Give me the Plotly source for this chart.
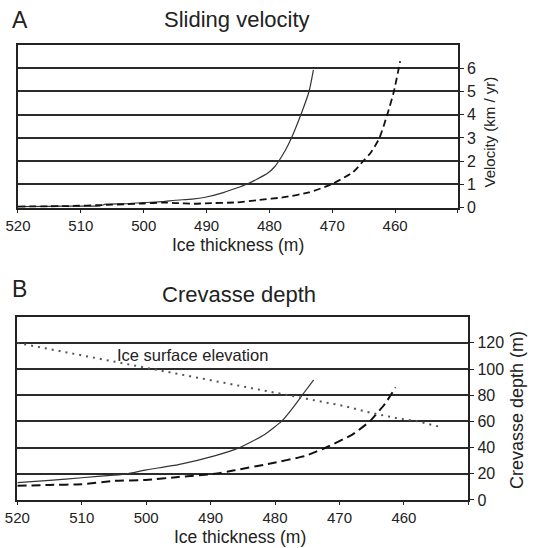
import plotly.graph_objects as go

# Panel A: sliding velocity (km/yr) vs ice thickness (m)
thick_a_solid = [520, 515, 510, 507, 506, 503, 500, 497, 495, 492.3, 490.2, 487.2, 485.5, 483.7, 482.0, 480.2, 479.2, 478.4, 477.4, 476.5, 475.0, 473.7, 473.0]
vel_a_solid = [0.05, 0.06, 0.07, 0.08, 0.15, 0.17, 0.22, 0.26, 0.32, 0.37, 0.45, 0.66, 0.82, 1.0, 1.22, 1.5, 1.75, 2.05, 2.5, 3.0, 4.0, 5.0, 5.93]

thick_a_dash = [520, 512, 506, 503, 500, 497, 495, 492, 490.2, 485.2, 481.7, 477.7, 473.7, 470.2, 466.7, 465.0, 463.8, 462.5, 461.2, 460.2, 459.2]
vel_a_dash = [0.05, 0.07, 0.12, 0.15, 0.18, 0.22, 0.2, 0.17, 0.19, 0.23, 0.33, 0.45, 0.66, 1.0, 1.53, 2.03, 2.4, 3.0, 4.05, 5.0, 6.3]

# Panel B: crevasse depth (m) vs ice thickness (m)
thick_b_solid = [520, 515, 510, 505, 503, 500, 495, 489.4, 485.5, 481.6, 479.0, 477.3, 475.8, 474.0]
crev_b_solid = [13.3, 15, 17, 19, 20, 23, 27, 33.7, 40, 50, 60, 70, 80, 91.7]

thick_b_dash = [520, 515, 510, 505, 500, 495, 489.4, 486.5, 481.1, 475.3, 471.9, 468.0, 465.3, 462.9, 461.3]
crev_b_dash = [10.8, 11.5, 12, 14.6, 15.3, 17.6, 20, 22.5, 27.5, 33.7, 40.5, 50, 60, 73.7, 86]

thick_b_dot = [520, 510, 500, 489.4, 477.5, 469, 465.1, 461.3, 457.8, 454.5]
elev_b_dot = [120, 110.5, 101, 91, 79.5, 71.5, 66.5, 62.7, 60, 56]

x_ticks = [520, 510, 500, 490, 480, 470, 460, 450]
x_ticktext = ["520", "510", "500", "490", "480", "470", "460", ""]
ya_ticks = [0, 1, 2, 3, 4, 5, 6]
yb_ticks = [0, 20, 40, 60, 80, 100, 120]

FONT = "Liberation Sans, Arial, sans-serif"
INK = "#222222"
GRID = "#2b2b2b"

fig = go.Figure()

fig.add_trace(go.Scatter(x=thick_a_solid, y=vel_a_solid, mode="lines",
                         line=dict(color="#333333", width=1.2, shape="spline", smoothing=0.6),
                         xaxis="x", yaxis="y", showlegend=False))
fig.add_trace(go.Scatter(x=thick_a_dash, y=vel_a_dash, mode="lines",
                         line=dict(color="#111111", width=1.8, dash="7px,4px", shape="spline", smoothing=0.6),
                         xaxis="x", yaxis="y", showlegend=False))

fig.add_trace(go.Scatter(x=thick_b_solid, y=crev_b_solid, mode="lines",
                         line=dict(color="#333333", width=1.2, shape="spline", smoothing=0.4),
                         xaxis="x2", yaxis="y2", showlegend=False))
fig.add_trace(go.Scatter(x=thick_b_dash, y=crev_b_dash, mode="lines",
                         line=dict(color="#111111", width=2, dash="9px,5px", shape="spline", smoothing=0.4),
                         xaxis="x2", yaxis="y2", showlegend=False))
fig.add_trace(go.Scatter(x=thick_b_dot, y=elev_b_dot, mode="lines",
                         line=dict(color="#555555", width=2, dash="2px,5px"),
                         xaxis="x2", yaxis="y2", showlegend=False))

common_x = dict(autorange=False, showline=True, linecolor=INK, linewidth=1.8, mirror=True,
                showgrid=False, zeroline=False, ticks="outside", ticklen=3, tickcolor=INK,
                tickvals=x_ticks, ticktext=x_ticktext, automargin=False,
                tickfont=dict(family=FONT, size=15, color=INK))
common_y = dict(autorange=False, showline=True, linecolor=INK, linewidth=1.8, mirror=True,
                side="right", showgrid=True, gridcolor=GRID, gridwidth=1.8, zeroline=False,
                ticks="outside", ticklen=4, tickcolor=INK, automargin=False,
                tickfont=dict(family=FONT, size=16, color=INK))

fig.update_layout(
    width=559, height=548,
    margin=dict(l=0, r=0, t=0, b=0),
    paper_bgcolor="white", plot_bgcolor="white",
    xaxis=dict(domain=[0.0322, 0.8193], range=[520, 450], anchor="y", **common_x),
    yaxis=dict(domain=[0.621, 0.9179], range=[0, 7], anchor="x", tickvals=ya_ticks, **common_y),
    xaxis2=dict(domain=[0.031, 0.8378], range=[520, 450], anchor="y2", **common_x),
    yaxis2=dict(domain=[0.0876, 0.4221], range=[0, 140], anchor="x2", tickvals=yb_ticks, **common_y),
)

def ann(text, x, y, size, angle=0, xanchor="center"):
    fig.add_annotation(text=text, x=x, y=y, xref="paper", yref="paper", showarrow=False,
                       xanchor=xanchor, yanchor="middle", textangle=angle,
                       font=dict(family=FONT, size=size, color=INK))

ann("A", 20 / 559, 1 - 20 / 548, 23)
ann("Sliding velocity", 237 / 559, 1 - 20 / 548, 22)
ann("Ice thickness (m)", 238 / 559, 1 - 245 / 548, 17.5)
ann("Velocity (km / yr)", 489 / 559, 1 - 132.5 / 548, 15, angle=-90)

ann("B", 19.5 / 559, 1 - 289 / 548, 23)
ann("Crevasse depth", 239 / 559, 1 - 294.7 / 548, 22)
ann("Ice thickness (m)", 240 / 559, 1 - 537 / 548, 17.5)
ann("Crevasse depth (m)", 517 / 559, 1 - 410 / 548, 18, angle=-90)

fig.add_annotation(text="Ice surface elevation", x=504.8, y=110.7, xref="x2", yref="y2",
                   showarrow=False, xanchor="left", yanchor="middle",
                   font=dict(family=FONT, size=16.5, color=INK))

fig.write_html("out.html")
